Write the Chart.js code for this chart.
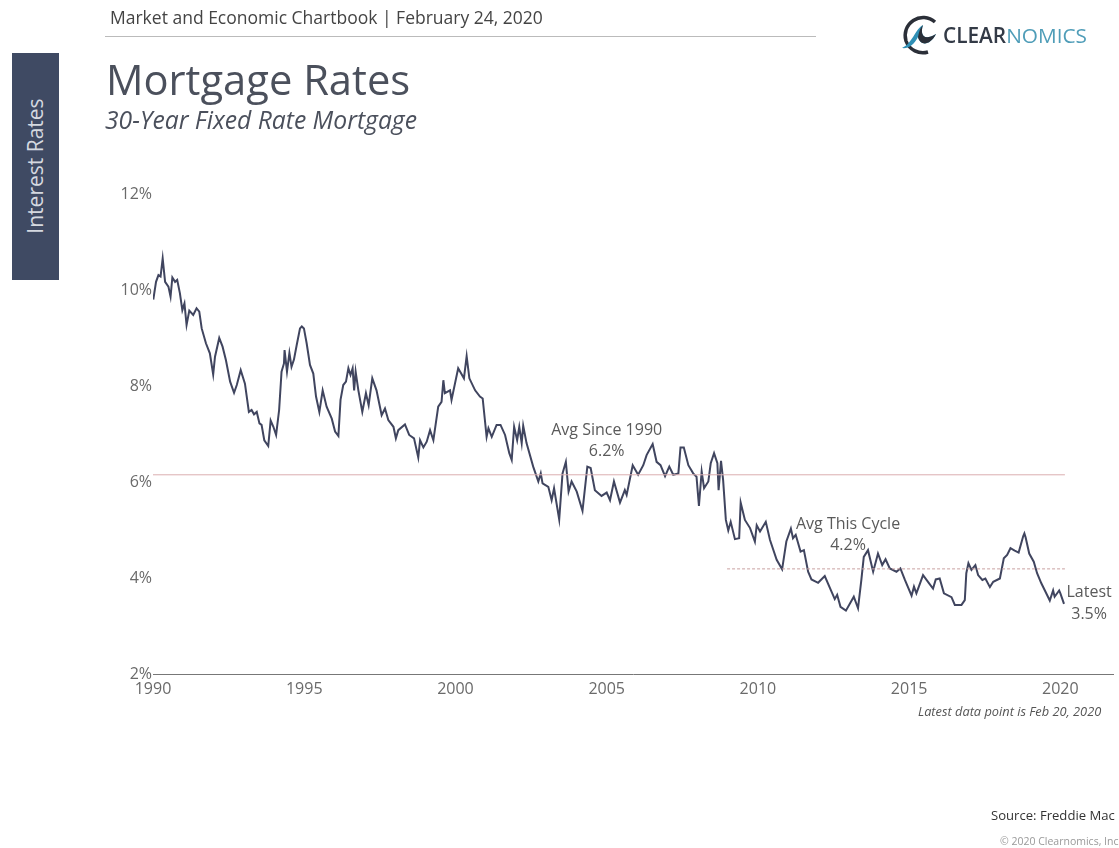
<!DOCTYPE html>
<html><head><meta charset="utf-8">
<script src="https://cdn.jsdelivr.net/npm/chart.js@4"></script>
<style>
html,body{margin:0;padding:0;background:#fff;}
body{width:1119px;height:848px;position:relative;overflow:hidden;font-family:"Open Sans",sans-serif;}
canvas{position:absolute;left:0;top:0;}
.t{position:absolute;white-space:nowrap;line-height:1;}
</style></head><body>
<canvas id="c" width="1119" height="848"></canvas>
<div class="t" style="left:110px;top:9px;font-size:17.5px;color:#444;">Market and Economic Chartbook | February 24, 2020</div>
<div style="position:absolute;left:105px;top:36px;width:711px;height:1px;background:#bbb;"></div>
<div style="position:absolute;left:12px;top:53px;width:47px;height:227px;background:#3f4a63;"></div>
<div class="t" style="left:35px;top:166px;font-size:21px;color:#d5d9e0;transform:translate(-50%,-50%) rotate(-90deg);">Interest Rates</div>
<div class="t" style="left:106px;top:58px;font-size:41.7px;color:#4b505c;">Mortgage Rates</div>
<div class="t" style="left:105px;top:108px;font-size:24.7px;font-style:italic;color:#4b505c;">30-Year Fixed Rate Mortgage</div>
<svg style="position:absolute;left:898px;top:14px;" width="44" height="42" viewBox="0 0 44 42">
<path d="M37 8 A18 18 0 0 0 8 27 A18 18 0 0 0 30 38" fill="none" stroke="#2b2f38" stroke-width="3.5"/>
<path d="M4 34 C14 30 18 14 25 11 C22 20 25 28 38 20 C32 32 22 32 20 23 C16 31 10 35 4 34Z" fill="#2f8fb5"/>
<path d="M25 11 C22 20 25 28 38 20 C32 32 22 32 20 23 C21 18 22 14 25 11Z" fill="#2b2f38"/>
</svg>
<div class="t" style="left:943px;top:25px;font-size:20.8px;font-weight:600;color:#333a46;">CLEAR<span style="color:#4f9db8;font-weight:400;">NOMICS</span></div>
<div class="t" style="left:918px;top:705px;font-size:12.8px;font-style:italic;color:#555;">Latest data point is Feb 20, 2020</div>
<div class="t" style="left:991px;top:809px;font-size:13.1px;color:#333;">Source: Freddie Mac</div>
<div class="t" style="left:1000px;top:836px;font-size:10.5px;color:#999;">© 2020 Clearnomics, Inc</div>
<script>
const rateYears=[1990.01,1990.10,1990.18,1990.25,1990.32,1990.40,1990.51,1990.58,1990.64,1990.73,1990.80,1990.89,1990.97,1991.04,1991.11,1991.20,1991.33,1991.44,1991.53,1991.61,1991.75,1991.88,1991.99,1992.05,1992.19,1992.30,1992.41,1992.55,1992.68,1992.77,1992.90,1993.04,1993.17,1993.26,1993.34,1993.43,1993.52,1993.59,1993.68,1993.81,1993.89,1993.98,1994.07,1994.17,1994.25,1994.33,1994.35,1994.43,1994.51,1994.58,1994.66,1994.75,1994.86,1994.92,1994.99,1995.08,1995.19,1995.30,1995.39,1995.50,1995.61,1995.74,1995.91,1996.02,1996.13,1996.20,1996.29,1996.38,1996.46,1996.53,1996.60,1996.65,1996.70,1996.79,1996.92,1997.04,1997.13,1997.25,1997.39,1997.56,1997.67,1997.78,1997.95,1998.03,1998.11,1998.33,1998.47,1998.63,1998.77,1998.83,1998.94,1999.05,1999.16,1999.27,1999.43,1999.54,1999.60,1999.65,1999.82,1999.87,2000.09,2000.28,2000.37,2000.46,2000.65,2000.81,2000.90,2001.03,2001.09,2001.20,2001.36,2001.49,2001.64,2001.78,2001.86,2001.94,2002.04,2002.11,2002.19,2002.24,2002.35,2002.57,2002.74,2002.82,2002.88,2003.07,2003.18,2003.26,2003.43,2003.54,2003.65,2003.74,2003.84,2004.01,2004.20,2004.36,2004.47,2004.61,2004.83,2005.00,2005.11,2005.24,2005.44,2005.60,2005.66,2005.86,2006.04,2006.21,2006.32,2006.52,2006.65,2006.78,2006.93,2007.07,2007.20,2007.37,2007.44,2007.55,2007.70,2007.86,2007.97,2008.05,2008.14,2008.22,2008.36,2008.44,2008.55,2008.66,2008.70,2008.78,2008.85,2008.94,2009.02,2009.10,2009.24,2009.38,2009.43,2009.57,2009.74,2009.90,2009.96,2010.07,2010.26,2010.40,2010.62,2010.80,2010.94,2011.09,2011.16,2011.25,2011.41,2011.52,2011.66,2011.77,2011.99,2012.21,2012.43,2012.54,2012.62,2012.73,2012.91,2013.17,2013.31,2013.42,2013.50,2013.64,2013.81,2013.97,2014.11,2014.22,2014.36,2014.58,2014.71,2014.86,2015.08,2015.16,2015.24,2015.46,2015.66,2015.79,2015.88,2016.01,2016.15,2016.40,2016.51,2016.73,2016.84,2016.89,2016.96,2017.06,2017.19,2017.28,2017.42,2017.52,2017.67,2017.78,2018.00,2018.13,2018.24,2018.35,2018.49,2018.62,2018.77,2018.81,2018.85,2018.97,2019.12,2019.23,2019.37,2019.48,2019.65,2019.76,2019.81,2019.96,2020.00,2020.12];
const rateValues=[9.80,10.17,10.31,10.28,10.66,10.17,10.07,9.86,10.26,10.17,10.21,9.93,9.58,9.72,9.27,9.57,9.48,9.62,9.55,9.20,8.89,8.68,8.24,8.61,9.00,8.82,8.54,8.09,7.86,8.02,8.33,8.05,7.46,7.50,7.41,7.46,7.22,7.19,6.87,6.75,7.28,7.15,6.98,7.50,8.30,8.47,8.75,8.30,8.69,8.40,8.55,8.85,9.20,9.24,9.20,8.89,8.44,8.26,7.78,7.46,7.91,7.57,7.32,7.05,6.96,7.71,8.02,8.09,8.37,8.23,8.37,7.91,8.30,7.91,7.46,7.85,7.60,8.16,7.91,7.39,7.53,7.29,7.15,6.91,7.08,7.20,6.98,6.91,6.51,6.87,6.72,6.84,7.08,6.87,7.57,7.67,8.12,7.85,7.91,7.71,8.37,8.16,8.62,8.16,7.91,7.78,7.74,6.94,7.12,6.94,7.19,7.19,6.98,6.60,6.46,7.15,6.87,7.15,6.81,7.17,6.81,6.32,6.01,6.18,5.97,5.90,5.62,5.87,5.22,6.18,6.42,5.80,6.01,5.80,5.40,6.32,6.29,5.83,5.71,5.78,5.62,6.01,5.57,5.83,5.73,6.35,6.15,6.35,6.56,6.79,6.42,6.35,6.12,6.32,6.15,6.18,6.72,6.72,6.35,6.18,6.11,5.50,6.22,5.87,6.01,6.39,6.60,6.39,5.83,6.44,6.04,5.21,4.99,5.17,4.81,4.83,5.57,5.21,5.04,4.76,5.10,4.97,5.17,4.79,4.38,4.18,4.76,5.03,4.83,4.90,4.55,4.58,4.13,3.97,3.90,4.04,3.72,3.56,3.65,3.40,3.32,3.61,3.37,3.96,4.44,4.58,4.13,4.51,4.27,4.39,4.20,4.13,4.20,3.96,3.63,3.82,3.68,4.06,3.89,3.78,3.97,3.99,3.68,3.60,3.44,3.44,3.54,4.10,4.31,4.17,4.27,4.06,3.96,3.99,3.81,3.92,3.99,4.41,4.48,4.62,4.57,4.53,4.87,4.93,4.85,4.51,4.34,4.10,3.89,3.75,3.53,3.74,3.61,3.74,3.68,3.46];
const avgSinceYears=[1990,2020.15];
const avgSinceValues=[6.15,6.15];
const avgCycleYears=[2008.98,2020.15];
const avgCycleValues=[4.19,4.19];
const yTicks=[2,4,6,8,10,12];
const xTicks=[1990,1995,2000,2005,2010,2015,2020];
const notes=[
 {lines:["Avg Since 1990","6.2%"],year:2005.0,value:7.08},
 {lines:["Avg This Cycle","4.2%"],year:2012.98,value:5.12},
 {lines:["Latest","3.5%"],year:2020.95,value:3.69}
];
const pair=(xs,ys)=>xs.map((x,i)=>({x,y:ys[i]}));
const notesPlugin={id:'notes',afterDatasetsDraw(ch){
 const c=ch.ctx,xs=ch.scales.x,ys=ch.scales.y;
 c.save();c.font='16px "Open Sans"';c.fillStyle='#5a5a5a';c.textAlign='center';c.textBaseline='middle';
 notes.forEach(n=>{const px=xs.getPixelForValue(n.year),py=ys.getPixelForValue(n.value);
  n.lines.forEach((l,i)=>c.fillText(l,px,py+i*21.5));});
 c.restore();
}};
new Chart(document.getElementById('c'),{
 type:'line',
 data:{datasets:[
  {data:pair(avgSinceYears,avgSinceValues),borderColor:'#dbaeb0',borderWidth:1,pointRadius:0},
  {data:pair(avgCycleYears,avgCycleValues),borderColor:'#c9a0a0',borderWidth:1,borderDash:[3,2],pointRadius:0},
  {data:pair(rateYears,rateValues),borderColor:'#40455f',borderWidth:2,pointRadius:0,tension:0}
 ]},
 options:{responsive:false,animation:false,
  layout:{padding:{left:113,top:194,right:6,bottom:144}},
  plugins:{legend:{display:false},tooltip:{enabled:false}},
  scales:{
   x:{type:'linear',min:1990,max:2021.74,afterFit:s=>{s.height=30;},
    afterBuildTicks:s=>{s.ticks=xTicks.map(v=>({value:v}));},
    border:{display:true,color:'#777',width:1},grid:{display:false,drawTicks:false},
    ticks:{autoSkip:false,maxRotation:0,padding:6,color:'#6a6a6a',font:{family:'"Open Sans"',size:16},callback:v=>String(v)}},
   y:{min:2,max:12,afterFit:s=>{s.width=40;},
    afterBuildTicks:s=>{s.ticks=yTicks.map(v=>({value:v}));},
    border:{display:false},grid:{display:false,drawTicks:false},
    ticks:{padding:1,color:'#6a6a6a',font:{family:'"Open Sans"',size:16},callback:v=>v+'%'}}
  }},
 plugins:[notesPlugin]
});
</script>
</body></html>
